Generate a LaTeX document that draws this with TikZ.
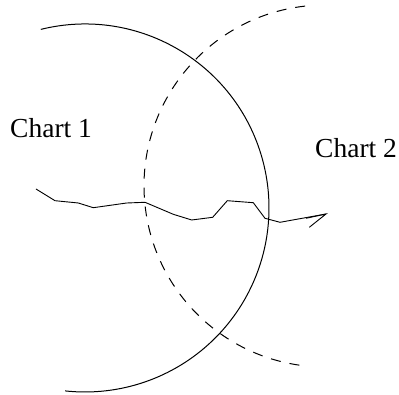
\documentclass[tikz,border=0pt]{standalone}
\usepackage{fontspec}
\setmainfont{Liberation Serif}
\begin{document}
\begin{tikzpicture}[x=1pt,y=1pt,
  curve/.style={line width=1pt},
  dashcurve/.style={line width=1pt, dash pattern=on 10pt off 9pt},
  pathline/.style={line width=0.9pt, line join=miter},
  label/.style={anchor=base west, inner sep=0pt, font=\fontsize{27.5}{30}\selectfont}]
\useasboundingbox (0,0) rectangle (399,395);
% solid chart boundary
\draw[curve] (85,187) ++(103.9:184) arc[start angle=103.9, end angle=-96.2, radius=184];
% dashed chart boundary
\draw[dashcurve] (325,209) ++(96.3:181) arc[start angle=96.3, end angle=262.4, radius=181];
% labels
\node[label] (c1) at (10,257) {Chart 1};
\node[label] (c2) at (315,237) {Chart 2};
% path
\coordinate (tip) at (326,181);
\coordinate (barbA) at (306,176.7);
\coordinate (barbB) at (309.3,167.7);
\draw[pathline] (36,206) -- (55,194.3) -- (78.3,192) -- (93.3,187.3) -- (126.7,192)
  -- (145,192.7) -- (173.3,180.7) -- (191.7,175) -- (212.7,177.7) -- (227.3,194.3)
  -- (253.3,192.3) -- (265,176.7) -- (280,172.7) -- (tip);
\draw[pathline] (barbA) -- (tip) -- (barbB);
\end{tikzpicture}
\end{document}
